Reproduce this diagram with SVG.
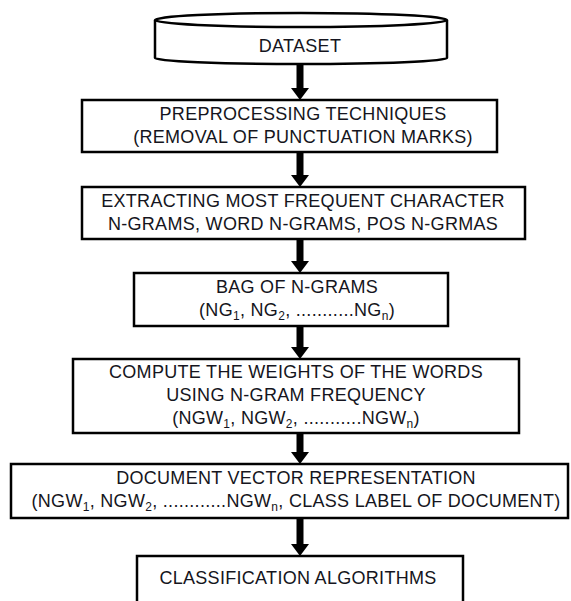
<svg xmlns="http://www.w3.org/2000/svg" width="571" height="601" viewBox="0 0 571 601">
<style>
.box{fill:#fff;stroke:#000;stroke-width:2.5}
.t{font-family:"Liberation Sans",Arial,sans-serif;font-size:18px;letter-spacing:0.3px;fill:#151520;text-anchor:middle}
.s{font-size:12px}
.arr{stroke:#000;stroke-width:7;fill:none}
</style>
<g id="connectors">
<line class="arr" x1="300" y1="63" x2="300" y2="89"/>
<path d="M291,88 L309,88 L300,100 Z"/>
<line class="arr" x1="300" y1="152" x2="300" y2="176"/>
<path d="M291,175 L309,175 L300,187 Z"/>
<line class="arr" x1="300" y1="239" x2="300" y2="262"/>
<path d="M291,261 L309,261 L300,273 Z"/>
<line class="arr" x1="300" y1="326" x2="300" y2="348"/>
<path d="M291,347 L309,347 L300,359 Z"/>
<line class="arr" x1="300" y1="433" x2="300" y2="453"/>
<path d="M291,452 L309,452 L300,464 Z"/>
<line class="arr" x1="300" y1="518" x2="300" y2="545"/>
<path d="M291,544 L309,544 L300,556 Z"/>
</g>
<g id="dataset">
<path class="box" d="M155,20 L155,58 A146,6 0 0 0 447,58 L447,20"/>
<ellipse class="box" cx="301" cy="20" rx="146" ry="7"/>
<text class="t" x="300" y="52">DATASET</text>
</g>
<g id="preprocessing">
<rect class="box" x="82" y="100" width="415" height="52"/>
<text class="t" x="303" y="120">PREPROCESSING TECHNIQUES</text>
<text class="t" x="303" y="143">(REMOVAL OF PUNCTUATION MARKS)</text>
</g>
<g id="extracting">
<rect class="box" x="82" y="187" width="443" height="52"/>
<text class="t" x="303" y="207">EXTRACTING MOST FREQUENT CHARACTER</text>
<text class="t" x="303" y="230">N-GRAMS, WORD N-GRAMS, POS N-GRMAS</text>
</g>
<g id="bag">
<rect class="box" x="134" y="273" width="314" height="53"/>
<text class="t" x="297" y="293">BAG OF N-GRAMS</text>
<text class="t" x="297" y="316">(NG<tspan class="s" dy="4">1</tspan><tspan dy="-4">, NG</tspan><tspan class="s" dy="4">2</tspan><tspan dy="-4">, ...........NG</tspan><tspan class="s" dy="4">n</tspan><tspan dy="-4">)</tspan></text>
</g>
<g id="compute">
<rect class="box" x="73" y="359" width="446" height="74"/>
<text class="t" x="296" y="378">COMPUTE THE WEIGHTS OF THE WORDS</text>
<text class="t" x="296" y="401">USING N-GRAM FREQUENCY</text>
<text class="t" x="296" y="424">(NGW<tspan class="s" dy="4">1</tspan><tspan dy="-4">, NGW</tspan><tspan class="s" dy="4">2</tspan><tspan dy="-4">, ...........NGW</tspan><tspan class="s" dy="4">n</tspan><tspan dy="-4">)</tspan></text>
</g>
<g id="document">
<rect class="box" x="11" y="464" width="557" height="54"/>
<text class="t" x="296" y="484">DOCUMENT VECTOR REPRESENTATION</text>
<text class="t" x="296" y="507">(NGW<tspan class="s" dy="4">1</tspan><tspan dy="-4">, NGW</tspan><tspan class="s" dy="4">2</tspan><tspan dy="-4">, ............NGW</tspan><tspan class="s" dy="4">n</tspan><tspan dy="-4">, CLASS LABEL OF DOCUMENT)</tspan></text>
</g>
<g id="classification">
<rect class="box" x="137" y="556" width="326" height="60"/>
<text class="t" x="298" y="584">CLASSIFICATION ALGORITHMS</text>
</g>
</svg>
